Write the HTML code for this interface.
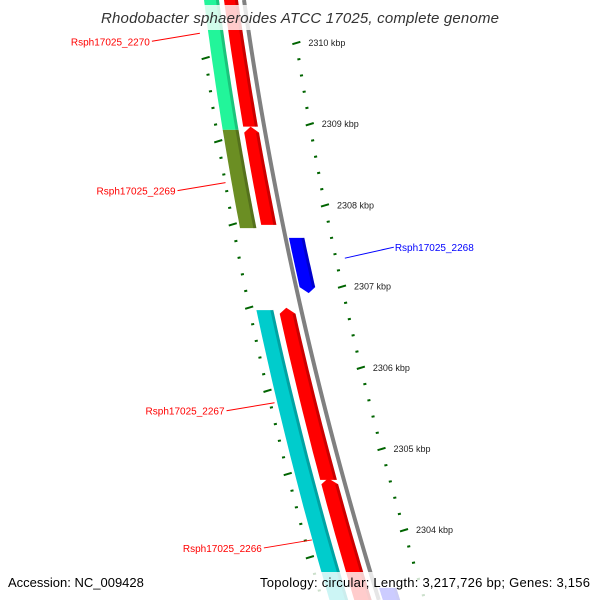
<!DOCTYPE html>
<html><head><meta charset="utf-8"><style>
html,body{margin:0;padding:0;background:#fff;overflow:hidden;width:600px;height:600px;}
svg{display:block;overflow:hidden;font-family:"Liberation Sans","DejaVu Sans",sans-serif;}
</style></head><body>
<svg id="map" width="600" height="600" viewBox="0 0 600 600" xmlns="http://www.w3.org/2000/svg">
<defs><clipPath id="frame"><rect x="0" y="0" width="600" height="600"/></clipPath></defs>
<g clip-path="url(#frame)">
<g id="ticks"></g>
<g id="feats"></g>
<g id="labels"></g>
</g>
<rect x="95" y="5" width="410" height="25" fill="#fff" fill-opacity="0.8"/>
<text x="300" y="23" text-anchor="middle" font-size="15" font-style="italic" fill="#333" textLength="398" lengthAdjust="spacing">Rhodobacter sphaeroides ATCC 17025, complete genome</text>
<rect x="0" y="572" width="600" height="28" fill="#fff" fill-opacity="0.8"/>
<text x="8" y="587" font-size="13" fill="#000">Accession: NC_009428</text>
<text x="260" y="587" font-size="13" fill="#000" textLength="330" lengthAdjust="spacing">Topology: circular; Length: 3,217,726 bp; Genes: 3,156</text>
</svg>
<script>
// data (kbp)
const majorTicks = [2310, 2309, 2308, 2307, 2306, 2305, 2304, 2303];
const featNames = ["Rsph17025_2270","red-a","Rsph17025_2269","red-b","Rsph17025_2268","Rsph17025_2267","red-c","red-d","blue-b"];
const featStart = [2310.65, 2310.65, 2308.93, 2308.97, 2307.60, 2306.71, 2306.74, 2304.64, 2303.29];
const featEnd   = [2308.93, 2308.97, 2307.72, 2307.76, 2306.92, 2303.00, 2304.62, 2303.00, 2303.00];
const featTrack = ["inner","outer","inner","outer","right","inner","outer","outer","right"];
const featColor = ["#22f59a","#ff0000","#6b8e23","#ff0000","#0000ff","#00cccc","#ff0000","#ff0000","#0000ff"];
const featArrow = ["none","none","none","top","bottom","none","top","top","none"];
const labelText = ["Rsph17025_2270","Rsph17025_2269","Rsph17025_2268","Rsph17025_2267","Rsph17025_2266"];
const labelKbp  = [2310.12, 2308.28, 2307.35, 2305.57, 2303.88];
const labelSide = ["left","left","right","left","left"];
const labelColor= ["#ff0000","#ff0000","#0000ff","#ff0000","#ff0000"];

const NS="http://www.w3.org/2000/svg";
function yR(k){return 43+(2310-k)*81.2;}
function yL(k){return 58+(2310-k)*83.2;}
function bx(y){return 243+0.1419*y+0.000138*y*y;}
function sc(y){return 1+0.0004*y;}
const tracks={inner:[-39,-24],outer:[-19,-5],right:[4,18]};
function el(t,a,p){const e=document.createElementNS(NS,t);for(const k in a)e.setAttribute(k,a[k]);p.appendChild(e);return e;}
const tg=document.getElementById('ticks'),fg=document.getElementById('feats'),lg=document.getElementById('labels');
// backbone
let pts=[];for(let y=0;y<=600;y+=10)pts.push([bx(y),y]);
const bb=el('polyline',{points:pts.map(p=>(p[0]+1)+','+p[1]).join(' '),fill:'none',stroke:'#808080','stroke-width':4},fg);


// ticks
for(let i=0;i<majorTicks.length;i++){
  for(let m=0;m<5;m++){
    const k=majorTicks[i]-m*0.2;
    const major=m===0;
    const yr=yR(k), yl=yL(k);
    const len=major?8:3;
    const dy=major?1.2:0.3;
    const r=el('line',{x1:bx(yr)+47-len/2,y1:yr+dy,x2:bx(yr)+47+len/2,y2:yr-dy,stroke:'#006400','stroke-width':2},tg);
    
    
    const off=-45-0.018*yl;
    const l=el('line',{x1:bx(yl)+off-len/2,y1:yl+dy,x2:bx(yl)+off+len/2,y2:yl-dy,stroke:'#006400','stroke-width':2},tg);
    
    
    if(major&&yr<560){
      const t=el('text',{x:bx(yr)+59,y:yr+3,'font-size':9,fill:'#222'},tg);
      t.textContent=majorTicks[i]+' kbp';
      
      
    }
  }
}
// features
for(let i=0;i<featStart.length;i++){
  const [o1,o2]=tracks[featTrack[i]];
  let y1=Math.max(-5,yR(featStart[i])),y2=Math.min(605,yR(featEnd[i]));
  const tip=6;
  if(featArrow[i]==='top')y1+=tip;
  if(featArrow[i]==='bottom')y2-=tip;
  const L=[],R=[];
  for(let s=0;s<=12;s++){const y=y1+(y2-y1)*s/12;L.push([bx(y)+o1*sc(y),y]);R.push([bx(y)+o2*sc(y),y]);}
  let poly=[];
  if(featArrow[i]==='top'){const y=y1-tip;poly.push([bx(y)+(o1+o2)/2*sc(y),y]);}
  poly=poly.concat(R);
  if(featArrow[i]==='bottom'){const y=y2+tip;poly.push([bx(y)+(o1+o2)/2*sc(y),y]);}
  poly=poly.concat(L.reverse());
  const p=el('polygon',{points:poly.map(q=>q[0].toFixed(1)+','+q[1].toFixed(1)).join(' '),fill:featColor[i]},fg);
  
  
  const s=el('polyline',{points:R.map(q=>(q[0]-1.5).toFixed(1)+','+q[1].toFixed(1)).join(' '),fill:'none',stroke:'#000','stroke-opacity':0.2,'stroke-width':3},fg);
  
  
}
// labels
for(let i=0;i<labelText.length;i++){
  const y=yR(labelKbp[i]);
  if(labelSide[i]==='left'){
    const x2=bx(y)-48, ly=y+8;
    const ln=el('line',{x1:x2,y1:y,x2:x2-48,y2:ly,stroke:labelColor[i],'stroke-width':1},lg);
    
    
    const t=el('text',{x:x2-50,y:ly+4,'text-anchor':'end','font-size':10,fill:labelColor[i]},lg);
    t.textContent=labelText[i];
    
    
  } else {
    const x1=bx(y)+56, ly=y-11;
    const ln=el('line',{x1:x1,y1:y,x2:x1+49,y2:ly,stroke:labelColor[i],'stroke-width':1},lg);
    
    
    const t=el('text',{x:x1+50,y:ly+4,'font-size':10,fill:labelColor[i]},lg);
    t.textContent=labelText[i];
    
    
  }
}
</script>
</body></html>
